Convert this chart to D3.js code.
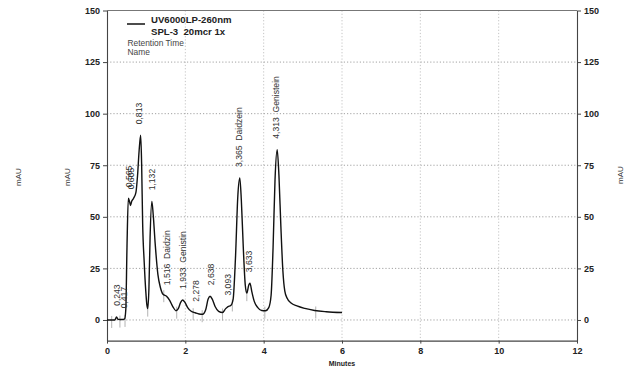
<!DOCTYPE html>
<html>
<head>
<meta charset="utf-8">
<script src="https://cdn.jsdelivr.net/npm/d3@7/dist/d3.min.js"></script>
<style>
  html, body { margin: 0; padding: 0; background: #fff; }
  svg { display: block; font-family: "Liberation Sans", Arial, sans-serif; }
</style>
</head>
<body>
<svg id="chart" width="627" height="371"></svg>
<script>
// ---- data ----
const traceTimes = [0.00,0.20,0.243,0.28,0.40,0.45,0.48,0.51,0.545,0.58,0.60,0.63,0.68,0.74,0.78,0.82,0.86,0.885,0.91,0.95,0.99,1.02,1.04,1.07,1.10,1.145,1.18,1.23,1.30,1.36,1.43,1.52,1.60,1.68,1.76,1.82,1.88,1.93,1.99,2.06,2.15,2.25,2.35,2.44,2.52,2.58,2.63,2.69,2.76,2.85,2.95,3.03,3.09,3.16,3.22,3.28,3.34,3.39,3.43,3.48,3.53,3.57,3.62,3.65,3.70,3.76,3.85,3.95,4.05,4.13,4.19,4.24,4.29,4.345,4.39,4.44,4.49,4.54,4.60,4.70,4.85,5.05,5.30,5.60,6.00];
const traceValues = [0,0,1.5,0.3,0.2,0.5,5,35,59,57,55.5,57.5,59,62,70,82,89.5,75,47,28,14,7,5.5,15,40,57.5,51,37,22,16,12.5,11.5,9.5,6.5,4.5,5.5,8.5,9.7,8.5,6,4.2,3.5,2.9,2.8,5,10,11.5,10,6.5,4.2,3.6,5.5,6.5,7,10,30,60,68.8,58,35,17,13,17,17.8,13.5,9,6,4.6,4.5,6,12,35,68,82.5,70,45,24,14,10.5,8.2,6.8,5.6,4.6,4.0,3.6];

const peakLabels = ["0,243","0,417","0,565","0,605","0,813","1,132","1,516  Daidzin","1,933  Genistin","2,278","2,638","3,093","3,365  Daidzein","3,633","4,313  Genistein"];
const peakTimes  = [0.243,0.417,0.565,0.605,0.813,1.132,1.516,1.933,2.278,2.638,3.093,3.365,3.633,4.313];
const peakHeights= [1.5,0.3,59,58,89.5,57.5,11.5,9.7,3.5,11.5,6.5,68.8,17.8,82.5];

const markerTimes  = [0.12,0.33,0.46,1.04,1.45,1.78,2.20,2.43,2.95,3.20,3.57,4.03,5.33];
const markerValues = [0,0.2,0.5,5.5,12.5,4.5,3.8,2.8,3.6,8,13,4.5,4.6];

const xTicks = [0,2,4,6,8,10,12];
const yTicks = [0,25,50,75,100,125,150];
const xGrid = [2,4,6,8,10];
const yGrid = [0,25,50,75,100,125];

const legendTitle = "UV6000LP-260nm";
const legendSub = "SPL-3  20mcr 1x";
const legendLines = ["Retention Time","Name"];
const xTitle = "Minutes";
const yTitle = "mAU";

// ---- layout ----
const svg = d3.select("#chart");
const x = d3.scaleLinear().domain([0,12]).range([107,577]);
const y = d3.scaleLinear().domain([-10,150]).range([340.6,10.5]);

// grid
svg.append("g").selectAll("line").data(yGrid).join("line")
  .attr("x1", x(0)).attr("x2", x(12))
  .attr("y1", d => y(d)).attr("y2", d => y(d))
  .attr("stroke", "#8a8a8a").attr("stroke-width", 0.8).attr("stroke-dasharray", "1.2,2");
svg.append("g").selectAll("line").data(xGrid).join("line")
  .attr("x1", d => x(d)).attr("x2", d => x(d))
  .attr("y1", y(150)).attr("y2", y(-10))
  .attr("stroke", "#b5b5b5").attr("stroke-width", 0.8).attr("stroke-dasharray", "1.2,2");

// frame top
svg.append("line").attr("x1", x(0)).attr("x2", x(12)).attr("y1", y(150)).attr("y2", y(150))
  .attr("stroke", "#777").attr("stroke-width", 1);

// axes
function styleAxis(g) {
  g.selectAll(".domain").attr("stroke", "#444").attr("stroke-width", 1.1);
  g.selectAll(".tick line").attr("stroke", "#444");
  g.selectAll(".tick text").attr("fill", "#222").attr("font-size", "9px").attr("font-weight", "bold")
    .attr("font-family", "Liberation Sans, Arial, sans-serif");
}
const yAxisL = d3.axisLeft(y).tickValues(yTicks).tickSize(4).tickSizeOuter(0).tickPadding(3);
svg.append("g").attr("transform", `translate(${x(0)},0)`).call(yAxisL).call(styleAxis);
const yAxisR = d3.axisRight(y).tickValues(yTicks).tickSize(4).tickSizeOuter(0).tickPadding(3);
svg.append("g").attr("transform", `translate(${x(12)},0)`).call(yAxisR).call(styleAxis);
const xAxis = d3.axisBottom(x).tickValues(xTicks).tickSize(3).tickSizeOuter(0).tickPadding(4);
svg.append("g").attr("transform", `translate(0,${y(-10)})`).call(xAxis).call(styleAxis);

// axis titles
svg.append("text").attr("x", 342).attr("y", 366).attr("text-anchor", "middle")
  .attr("font-size", "7px").attr("font-weight", "bold").attr("fill", "#222").text(xTitle);
[[21,177],[70,177],[623,175]].forEach(p => {
  svg.append("text").attr("transform", `translate(${p[0]},${p[1]}) rotate(-90)`)
    .attr("text-anchor", "middle").attr("font-size", "8px").attr("fill", "#333").text(yTitle);
});

// marker ticks
svg.append("g").selectAll("line").data(markerTimes).join("line")
  .attr("x1", d => x(d)).attr("x2", d => x(d))
  .attr("y1", (d,i) => y(markerValues[i]) - 4).attr("y2", (d,i) => y(markerValues[i]) + 8)
  .attr("stroke", "#a0a0a0").attr("stroke-width", 0.8);

// trace
const pts = traceTimes.map((t,i) => [t, traceValues[i]]);
const line = d3.line().x(d => x(d[0])).y(d => y(d[1])).curve(d3.curveMonotoneX);
svg.append("path").datum(pts).attr("d", line)
  .attr("fill", "none").attr("stroke", "#111").attr("stroke-width", 1.4).attr("stroke-linejoin", "round");

// peak labels
svg.append("g").selectAll("text").data(peakLabels).join("text")
  .attr("transform", (d,i) => `translate(${x(peakTimes[i]) + 3.2},${y(peakHeights[i]) - 11}) rotate(-90)`)
  .attr("font-size", "8.6px").attr("fill", "#333").style("white-space", "pre")
  .text(d => d);

// legend
svg.append("line").attr("x1", 127).attr("x2", 145).attr("y1", 24).attr("y2", 24)
  .attr("stroke", "#111").attr("stroke-width", 1.5);
svg.append("text").attr("x", 151).attr("y", 22.5).attr("font-size", "9.6px").attr("font-weight", "bold")
  .attr("fill", "#222").text(legendTitle);
svg.append("text").attr("x", 151).attr("y", 35).attr("font-size", "9.6px").attr("font-weight", "bold")
  .attr("fill", "#222").style("white-space", "pre").text(legendSub);
legendLines.forEach((s,i) => {
  svg.append("text").attr("x", 127.5).attr("y", 45.5 + i*9.5).attr("font-size", "8.4px")
    .attr("fill", "#444").text(s);
});
</script>
</body>
</html>
